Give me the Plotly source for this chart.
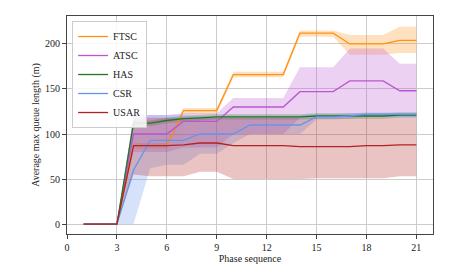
import plotly.graph_objects as go

x = list(range(1, 22))

ftsc = [0, 0, 0, 87, 87, 87, 126, 126, 126, 166, 166, 166, 166, 212, 212, 212, 200, 200, 200, 204, 204]
ftsc_lo = [0, 0, 0, 84, 84, 84, 122, 122, 122, 163, 163, 163, 163, 208, 208, 208, 188, 188, 188, 190, 190]
ftsc_hi = [0, 0, 0, 90, 90, 90, 129, 129, 129, 169, 169, 169, 169, 215, 215, 215, 210, 210, 210, 219, 219]

atsc = [0, 0, 0, 100, 100, 100, 114, 114, 114, 130, 130, 130, 130, 147, 147, 147, 159, 159, 159, 148, 148]
atsc_lo = [0, 0, 0, 80, 80, 80, 85, 85, 85, 100, 100, 100, 100, 118, 118, 118, 118, 118, 118, 118, 118]
atsc_hi = [0, 0, 0, 121, 121, 121, 123, 123, 123, 140, 140, 140, 140, 174, 174, 174, 195, 195, 195, 178, 178]

has = [0, 0, 0, 112, 112, 115, 117, 118, 119, 119, 119, 119, 119, 119, 120, 120, 120, 120, 120, 121, 121]
has_lo = [0, 0, 0, 109, 109, 112, 114, 115, 116, 116, 116, 116, 116, 116, 117, 117, 117, 117, 117, 118, 118]
has_hi = [0, 0, 0, 115, 115, 118, 120, 121, 122, 122, 122, 122, 122, 122, 123, 123, 123, 123, 123, 124, 124]

csr = [0, 0, 0, 60, 93, 93, 93, 100, 100, 100, 110, 110, 110, 110, 119, 119, 120, 122, 122, 122, 122]
csr_lo = [0, 0, 0, 0, 62, 66, 66, 78, 78, 90, 100, 100, 100, 100, 116, 116, 117, 119, 119, 119, 119]
csr_hi = [0, 0, 0, 121, 121, 121, 121, 120, 120, 120, 120, 120, 120, 120, 122, 122, 123, 124, 124, 124, 124]

usar = [0, 0, 0, 87, 87, 87, 88, 90, 90, 87, 87, 87, 87, 86, 86, 86, 86, 87, 87, 88, 88]
usar_lo = [0, 0, 0, 55, 53, 53, 53, 58, 58, 50, 50, 50, 50, 50, 51, 51, 51, 51, 51, 53, 53]
usar_hi = [0, 0, 0, 118, 118, 118, 118, 118, 118, 118, 118, 118, 118, 118, 118, 118, 118, 118, 118, 118, 118]

x_ticks = [0, 3, 6, 9, 12, 15, 18, 21]
y_ticks = [0, 50, 100, 150, 200]

series = [
    ("FTSC", ftsc, ftsc_lo, ftsc_hi, (255, 145, 20)),
    ("ATSC", atsc, atsc_lo, atsc_hi, (186, 85, 211)),
    ("HAS", has, has_lo, has_hi, (34, 120, 34)),
    ("CSR", csr, csr_lo, csr_hi, (100, 149, 237)),
    ("USAR", usar, usar_lo, usar_hi, (178, 34, 34)),
]

SERIF = "Liberation Serif"

fig = go.Figure()

for name, y, lo, hi, c in series:
    fill = "rgba(%d,%d,%d,0.27)" % c
    fig.add_trace(go.Scatter(x=x, y=lo, mode="lines", line=dict(width=0),
                             showlegend=False, hoverinfo="skip"))
    fig.add_trace(go.Scatter(x=x, y=hi, mode="lines", line=dict(width=0),
                             fill="tonexty", fillcolor=fill,
                             showlegend=False, hoverinfo="skip"))

for name, y, lo, hi, c in series:
    fig.add_trace(go.Scatter(x=x, y=y, mode="lines", name=name,
                             line=dict(color="rgb(%d,%d,%d)" % c, width=1.3)))

axis_common = dict(
    showline=True, linecolor="#444", linewidth=1, mirror=True,
    ticks="outside", ticklen=4, tickcolor="#444",
    showgrid=True, gridcolor="#cccccc", gridwidth=1,
    zeroline=False, automargin=False,
    tickfont=dict(family=SERIF, size=10, color="#222"),
)

fig.update_xaxes(range=[0, 22], tickvals=x_ticks, title=dict(text="Phase sequence",
                 font=dict(family=SERIF, size=10, color="#222"), standoff=2),
                 **axis_common)
fig.update_yaxes(range=[-11, 231], tickvals=y_ticks, title=dict(text="Average max queue length (m)",
                 font=dict(family=SERIF, size=10, color="#222"), standoff=3),
                 **axis_common)

# the page body adds an 8px offset, so the margins are shifted by 8px
fig.update_layout(
    width=471, height=273,
    margin=dict(l=59, r=46, t=8, b=47),
    plot_bgcolor="white", paper_bgcolor="white",
    font=dict(family=SERIF),
    legend=dict(x=0.014, y=0.977, xanchor="left", yanchor="top",
                traceorder="normal",
                bgcolor="rgba(255,255,255,0.85)", bordercolor="#cccccc", borderwidth=1,
                font=dict(family=SERIF, size=10, color="#222"),
                tracegroupgap=0, itemwidth=30),
    showlegend=True,
)

fig.write_html("out.html")
